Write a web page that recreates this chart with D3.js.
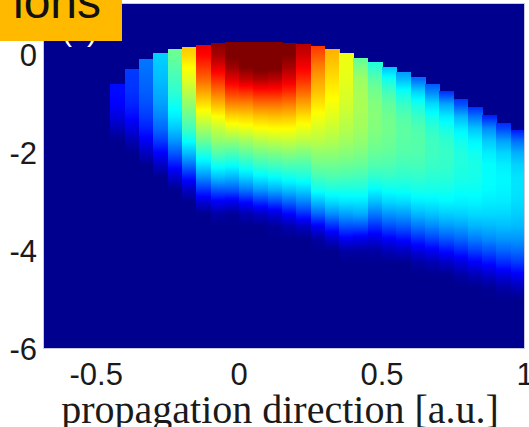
<!DOCTYPE html>
<html>
<head>
<meta charset="utf-8">
<script src="https://cdnjs.cloudflare.com/ajax/libs/d3/7.8.5/d3.min.js"></script>
<style>
  html, body { margin: 0; padding: 0; background: #fff; }
  svg { display: block; }
</style>
</head>
<body>
<svg id="chart" width="529" height="427"></svg>
<script>
// Transverse positions at which each column's intensity is sampled
const yLevels = [0.25, 0, -0.25, -0.5, -0.75, -1.0, -1.25, -1.5, -1.75, -2.0, -2.25,
                 -2.5, -2.75, -3.0, -3.25, -3.5, -3.75, -4.0, -4.25, -4.5, -4.75, -5.0];

// Column centres along the propagation direction and the upper edge of each column
const columnX = [-0.425, -0.375, -0.325, -0.275, -0.225, -0.175, -0.125, -0.075, -0.025,
                 0.025, 0.075, 0.125, 0.175, 0.225, 0.275, 0.325, 0.375, 0.425, 0.475,
                 0.525, 0.575, 0.625, 0.675, 0.725, 0.775, 0.825, 0.875, 0.925, 0.975];
const columnTop = [-0.60, -0.28, -0.08, 0.04, 0.12, 0.17, 0.21, 0.24, 0.26,
                   0.265, 0.265, 0.26, 0.245, 0.23, 0.19, 0.12, 0.04, -0.06, -0.15,
                   -0.25, -0.35, -0.46, -0.60, -0.74, -0.90, -1.07, -1.23, -1.39, -1.53];
const columnWidth = 0.05;

// Normalised ion density per column, one value per entry of yLevels
const columnValues = [
  [0.12,0.12,0.12,0.12,0.12,0.11,0.08,0.04,0,0,0,0,0,0,0,0,0,0,0,0,0,0],
  [0.17,0.17,0.17,0.165,0.16,0.145,0.12,0.08,0.035,0,0,0,0,0,0,0,0,0,0,0,0,0],
  [0.23,0.23,0.225,0.215,0.205,0.19,0.17,0.14,0.1,0.05,0,0,0,0,0,0,0,0,0,0,0,0],
  [0.33,0.32,0.31,0.3,0.285,0.27,0.245,0.215,0.17,0.11,0.05,0,0,0,0,0,0,0,0,0,0,0],
  [0.48,0.47,0.45,0.43,0.41,0.38,0.35,0.31,0.26,0.2,0.13,0.06,0,0,0,0,0,0,0,0,0,0],
  [0.68,0.66,0.62,0.59,0.55,0.51,0.47,0.43,0.37,0.3,0.22,0.13,0.05,0,0,0,0,0,0,0,0,0],
  [0.9,0.87,0.82,0.77,0.71,0.65,0.59,0.53,0.47,0.4,0.33,0.25,0.16,0.07,0,0,0,0,0,0,0,0],
  [0.99,0.96,0.9,0.83,0.76,0.69,0.62,0.56,0.51,0.45,0.38,0.3,0.2,0.1,0.02,0,0,0,0,0,0,0],
  [1.02,1.01,0.97,0.9,0.82,0.74,0.66,0.59,0.51,0.44,0.37,0.29,0.2,0.09,0.01,0,0,0,0,0,0,0],
  [1.05,1.04,1.0,0.93,0.83,0.74,0.665,0.6,0.525,0.46,0.395,0.32,0.23,0.12,0.03,0,0,0,0,0,0,0],
  [1.06,1.05,1.02,0.95,0.85,0.76,0.68,0.615,0.545,0.48,0.42,0.35,0.265,0.155,0.05,0,0,0,0,0,0,0],
  [1.05,1.04,1.01,0.94,0.85,0.76,0.685,0.62,0.555,0.49,0.43,0.365,0.285,0.18,0.07,0.01,0,0,0,0,0,0],
  [1.02,1.0,0.96,0.9,0.83,0.75,0.68,0.62,0.56,0.5,0.44,0.38,0.305,0.21,0.11,0.03,0,0,0,0,0,0],
  [0.95,0.92,0.88,0.83,0.77,0.71,0.65,0.6,0.55,0.49,0.44,0.39,0.32,0.24,0.15,0.05,0,0,0,0,0,0],
  [0.83,0.79,0.745,0.71,0.68,0.645,0.61,0.58,0.55,0.51,0.475,0.43,0.38,0.3,0.21,0.1,0.02,0,0,0,0,0],
  [0.7,0.69,0.67,0.65,0.63,0.61,0.59,0.565,0.54,0.51,0.475,0.44,0.39,0.33,0.25,0.15,0.06,0,0,0,0,0],
  [0.6,0.6,0.6,0.595,0.585,0.575,0.56,0.545,0.525,0.5,0.47,0.435,0.39,0.34,0.27,0.19,0.1,0.02,0,0,0,0],
  [0.45,0.45,0.49,0.52,0.53,0.535,0.53,0.525,0.51,0.49,0.465,0.43,0.39,0.34,0.28,0.19,0.09,0.02,0,0,0,0],
  [0.38,0.38,0.41,0.454,0.48,0.495,0.5,0.495,0.485,0.468,0.445,0.41,0.36,0.3,0.23,0.155,0.08,0.02,0,0,0,0],
  [0.3,0.3,0.3,0.383,0.432,0.461,0.476,0.48,0.473,0.462,0.442,0.415,0.374,0.324,0.26,0.187,0.106,0.038,0,0,0,0],
  [0.24,0.24,0.24,0.3,0.376,0.42,0.447,0.458,0.455,0.449,0.432,0.41,0.377,0.33,0.267,0.2,0.124,0.05,0,0,0,0],
  [0.2,0.2,0.2,0.22,0.322,0.385,0.42,0.443,0.45,0.446,0.434,0.414,0.387,0.347,0.294,0.228,0.153,0.077,0.018,0,0,0],
  [0.17,0.17,0.17,0.17,0.243,0.329,0.381,0.411,0.427,0.428,0.421,0.406,0.385,0.35,0.305,0.245,0.176,0.097,0.032,0,0,0],
  [0.15,0.15,0.15,0.15,0.155,0.274,0.346,0.388,0.412,0.42,0.416,0.404,0.384,0.357,0.316,0.263,0.197,0.122,0.05,0,0,0],
  [0.13,0.13,0.13,0.13,0.13,0.187,0.289,0.349,0.382,0.397,0.398,0.39,0.374,0.352,0.32,0.272,0.214,0.146,0.074,0.02,0,0],
  [0.13,0.13,0.13,0.13,0.13,0.13,0.224,0.307,0.355,0.381,0.39,0.386,0.374,0.355,0.328,0.289,0.236,0.172,0.1,0.035,0,0],
  [0.13,0.13,0.13,0.13,0.13,0.13,0.14,0.25,0.312,0.348,0.366,0.368,0.363,0.348,0.327,0.294,0.25,0.19,0.122,0.055,0.007,0],
  [0.12,0.12,0.12,0.12,0.12,0.12,0.12,0.18,0.271,0.323,0.35,0.36,0.356,0.346,0.326,0.3,0.261,0.209,0.148,0.077,0.023,0],
  [0.12,0.12,0.12,0.12,0.12,0.12,0.12,0.12,0.221,0.286,0.322,0.338,0.338,0.331,0.316,0.296,0.262,0.218,0.163,0.099,0.037,0]
];

const xTicks = [-0.5, 0, 0.5, 1];
const yTicks = [0, -2, -4, -6];
const xLabel = "propagation direction [a.u.]";
const panelTag = "ions";

const svg = d3.select("#chart");
const plot = { left: 43, right: 525, top: 3, bottom: 349 };

const x = d3.scaleLinear().domain([-0.686, 1]).range([plot.left, plot.right]);
const y = d3.scaleLinear().domain([-6, 1.06]).range([plot.bottom, plot.top]);

// MATLAB-style jet colour map
const jet = d3.scaleLinear()
  .domain([0, 0.111, 0.365, 0.619, 0.873, 1])
  .range(["#00008f", "#0000ff", "#00ffff", "#ffff00", "#ff0000", "#800000"])
  .clamp(true);

svg.append("rect").attr("width", 529).attr("height", 427).attr("fill", "#fff");

const defs = svg.append("defs");
defs.append("clipPath").attr("id", "plotClip")
  .append("rect")
  .attr("x", plot.left).attr("y", plot.top)
  .attr("width", plot.right - plot.left).attr("height", plot.bottom - plot.top);

// Background of the map (zero density)
svg.append("rect")
  .attr("x", plot.left).attr("y", plot.top)
  .attr("width", plot.right - plot.left).attr("height", plot.bottom - plot.top)
  .attr("fill", jet(0));

// One vertical gradient per column, sampled along the column's profile
const yFirst = yLevels[0], yLast = yLevels[yLevels.length - 1];
const nStops = 140;
columnValues.forEach((vals, i) => {
  const profile = d3.scaleLinear().domain(yLevels).range(vals);
  const grad = defs.append("linearGradient")
    .attr("id", "col" + i)
    .attr("gradientUnits", "userSpaceOnUse")
    .attr("x1", 0).attr("x2", 0)
    .attr("y1", y(yFirst)).attr("y2", y(yLast));
  d3.range(nStops + 1).forEach(s => {
    const yy = yFirst + (yLast - yFirst) * s / nStops;
    grad.append("stop")
      .attr("offset", s / nStops)
      .attr("stop-color", jet(profile(yy)));
  });
});

const map = svg.append("g").attr("clip-path", "url(#plotClip)");
map.selectAll("rect.col")
  .data(columnX)
  .join("rect")
  .attr("class", "col")
  .attr("shape-rendering", "crispEdges")
  .attr("x", d => x(d - columnWidth / 2))
  .attr("width", d => x(d + columnWidth / 2) - x(d - columnWidth / 2) + 0.6)
  .attr("y", (d, i) => y(columnTop[i]))
  .attr("height", (d, i) => y(yLast) - y(columnTop[i]))
  .attr("fill", (d, i) => `url(#col${i})`);

// Axes frame
svg.append("rect")
  .attr("x", plot.left + 0.5).attr("y", plot.top + 0.5)
  .attr("width", plot.right - plot.left - 1).attr("height", plot.bottom - plot.top - 1)
  .attr("fill", "none").attr("stroke", "#c9c9dd").attr("stroke-width", 1);

// Tick labels
const tickFont = "'Liberation Sans', Arial, Helvetica, sans-serif";
svg.append("g").selectAll("text")
  .data(yTicks)
  .join("text")
  .attr("x", 37)
  .attr("y", d => y(d) + 11)
  .attr("text-anchor", "end")
  .attr("font-family", tickFont)
  .attr("font-size", 31)
  .attr("fill", "#1a1a1a")
  .text(d => String(d));

svg.append("g").selectAll("text")
  .data(xTicks)
  .join("text")
  .attr("x", d => x(d))
  .attr("y", 385)
  .attr("text-anchor", "middle")
  .attr("font-family", tickFont)
  .attr("font-size", 31)
  .attr("fill", "#1a1a1a")
  .text(d => String(d));

// Axis title
svg.append("text")
  .attr("x", 280).attr("y", 423)
  .attr("text-anchor", "middle")
  .attr("font-family", "'Liberation Serif', 'Times New Roman', serif")
  .attr("font-size", 40)
  .attr("fill", "#1a1a1a")
  .text(xLabel);

// Panel letter inside the map, partly covered by the tag box
svg.append("text")
  .attr("x", 62).attr("y", 41)
  .attr("font-family", tickFont)
  .attr("font-size", 30)
  .attr("fill", "#ffffff")
  .text("(c)");

// Tag box
svg.append("rect")
  .attr("x", 0).attr("y", 0).attr("width", 122).attr("height", 41)
  .attr("fill", "#ffba00");
svg.append("text")
  .attr("x", 13).attr("y", 18)
  .attr("font-family", tickFont)
  .attr("font-size", 48)
  .attr("fill", "#111")
  .text(panelTag);
</script>
</body>
</html>
